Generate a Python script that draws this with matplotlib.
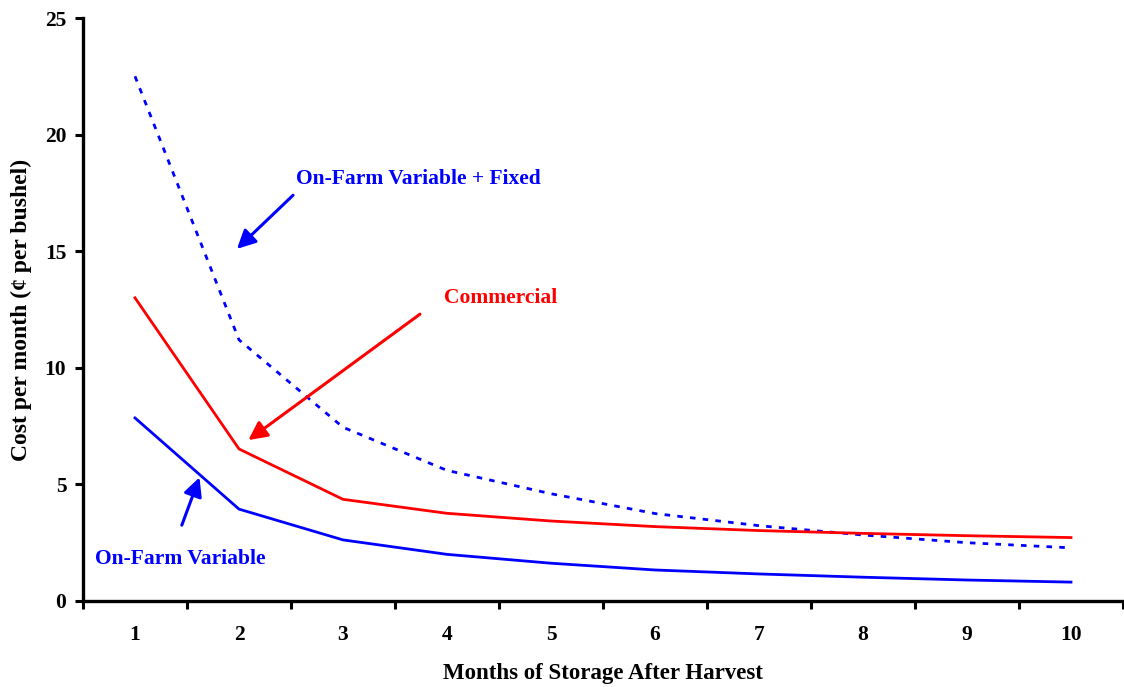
import matplotlib
matplotlib.use("Agg")
import matplotlib.pyplot as plt
import numpy as np

months = [1, 2, 3, 4, 5, 6, 7, 8, 9, 10]
on_farm_var_fixed = [22.5, 11.2, 7.45, 5.6, 4.6, 3.75, 3.23, 2.83, 2.5, 2.28]
commercial = [13.0, 6.52, 4.36, 3.76, 3.43, 3.19, 3.02, 2.9, 2.8, 2.72]
on_farm_var = [7.85, 3.94, 2.62, 2.0, 1.62, 1.33, 1.16, 1.02, 0.9, 0.81]
y_ticks = [0, 5, 10, 15, 20, 25]

plt.rcParams['font.family'] = ['Liberation Serif', 'DejaVu Serif']
plt.rcParams['font.weight'] = 'bold'

BLUE = '#0000FF'
RED = '#FF0000'

fig = plt.figure(figsize=(11.24, 6.87), dpi=100)
ax = fig.add_axes([83/1124, 1 - 601/687, (1123 - 83)/1124, (601 - 18)/687])

ax.plot(months, on_farm_var_fixed, color=BLUE, lw=2.0, linestyle=(0, (2, 2.6)))
ax.plot(months, commercial, color=RED, lw=2.0)
ax.plot(months, on_farm_var, color=BLUE, lw=2.0)

ax.set_xlim(0.5, 10.5)
ax.set_ylim(0, 25)

ax.set_yticks(y_ticks)
ax.set_yticklabels([str(v) for v in y_ticks], fontsize=15.5, fontweight='bold')
ax.set_xticks(np.arange(0.5, 11, 1.0))
ax.set_xticklabels([])
ax.set_xticks(months, minor=True)
ax.set_xticklabels([str(m) for m in months], minor=True, fontsize=15.5, fontweight='bold')
ax.tick_params(axis='x', which='minor', length=0, pad=17)
ax.tick_params(axis='x', which='major', length=6, width=2.2, direction='out')
ax.tick_params(axis='y', length=6, width=2.2, direction='out', pad=6)

for s in ['top', 'right']:
    ax.spines[s].set_visible(False)
for s in ['left', 'bottom']:
    ax.spines[s].set_linewidth(2.4)

ax.set_xlabel('Months of Storage After Harvest', fontsize=16.5, fontweight='bold', labelpad=13)
ax.set_ylabel('Cost per month (¢ per bushel)', fontsize=17, fontweight='bold', labelpad=9)

arrow_kw = dict(arrowstyle='-|>', lw=2.2, mutation_scale=28, shrinkA=0, shrinkB=0)

ax.annotate('', xy=(1.98, 15.1), xytext=(2.52, 17.4),
            arrowprops=dict(color=BLUE, **arrow_kw))
ax.text(2.55, 18.1, 'On-Farm Variable + Fixed', color=BLUE, fontsize=15.5,
        fontweight='bold', ha='left', va='center')

ax.annotate('', xy=(2.09, 6.9), xytext=(3.74, 12.3),
            arrowprops=dict(color=RED, **arrow_kw))
ax.text(3.97, 12.99, 'Commercial', color=RED, fontsize=15.5,
        fontweight='bold', ha='left', va='center')

ax.annotate('', xy=(1.62, 5.3), xytext=(1.45, 3.25),
            arrowprops=dict(color=BLUE, **arrow_kw))
ax.text(0.615, 1.8, 'On-Farm Variable', color=BLUE, fontsize=15.5,
        fontweight='bold', ha='left', va='center')

fig.savefig('out.png', dpi=100)
